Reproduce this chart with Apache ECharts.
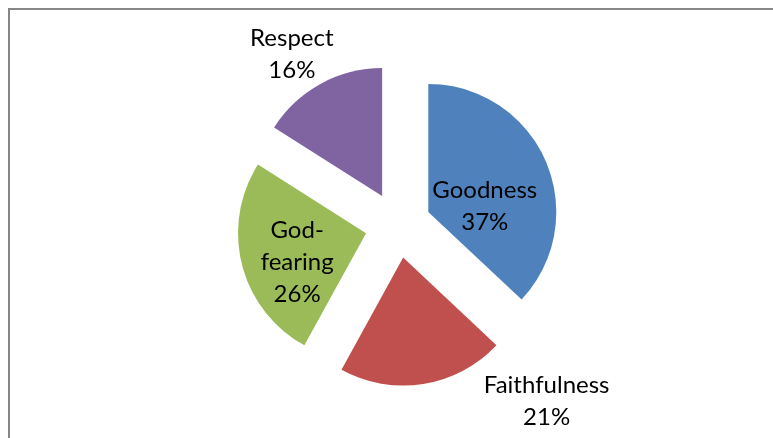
<!DOCTYPE html>
<html>
<head>
<meta charset="utf-8">
<script src="https://cdn.jsdelivr.net/npm/echarts@6/dist/echarts.min.js"></script>
<style>
  html, body { margin: 0; padding: 0; background: #fff; }
  #main { width: 773px; height: 438px; }
</style>
</head>
<body>
<div id="main"></div>
<script>
var names = ['Goodness', 'Faithfulness', 'God-\nfearing', 'Respect'];
var values = [37, 21, 26, 16];
var colors = ['#4F81BD', '#C0504D', '#9BBB59', '#8064A2'];
// label nudges from the default inside spot
var labelOffsets = [[-5, 21], [133, 77], [-4, 12], [-58, -83]];

var chart = echarts.init(document.getElementById('main'));

var data = values.map(function (v, i) {
  return {
    name: names[i],
    value: v,
    selected: true,
    itemStyle: { color: colors[i] }
  };
});

var option = {
  animation: false,
  graphic: [{
    type: 'rect',
    shape: { x: 9, y: 9, width: 800, height: 500 },
    style: { fill: 'none', stroke: '#868686', lineWidth: 2 }
  }],
  series: [{
    type: 'pie',
    center: [398, 225],
    radius: [0, 128],
    startAngle: 90,
    clockwise: true,
    selectedMode: 'multiple',
    selectedOffset: 33,
    data: data,
    label: {
      show: true,
      position: 'inside',
      color: '#000',
      fontFamily: 'Lato',
      fontSize: 24,
      lineHeight: 32,
      formatter: function (p) { return p.name + '\n' + p.value + '%'; }
    },
    labelLayout: function (p) {
      var o = labelOffsets[p.dataIndex];
      return { dx: o[0], dy: o[1] };
    },
    labelLine: { show: false },
    emphasis: { disabled: true }
  }]
};

chart.setOption(option);
</script>
</body>
</html>
